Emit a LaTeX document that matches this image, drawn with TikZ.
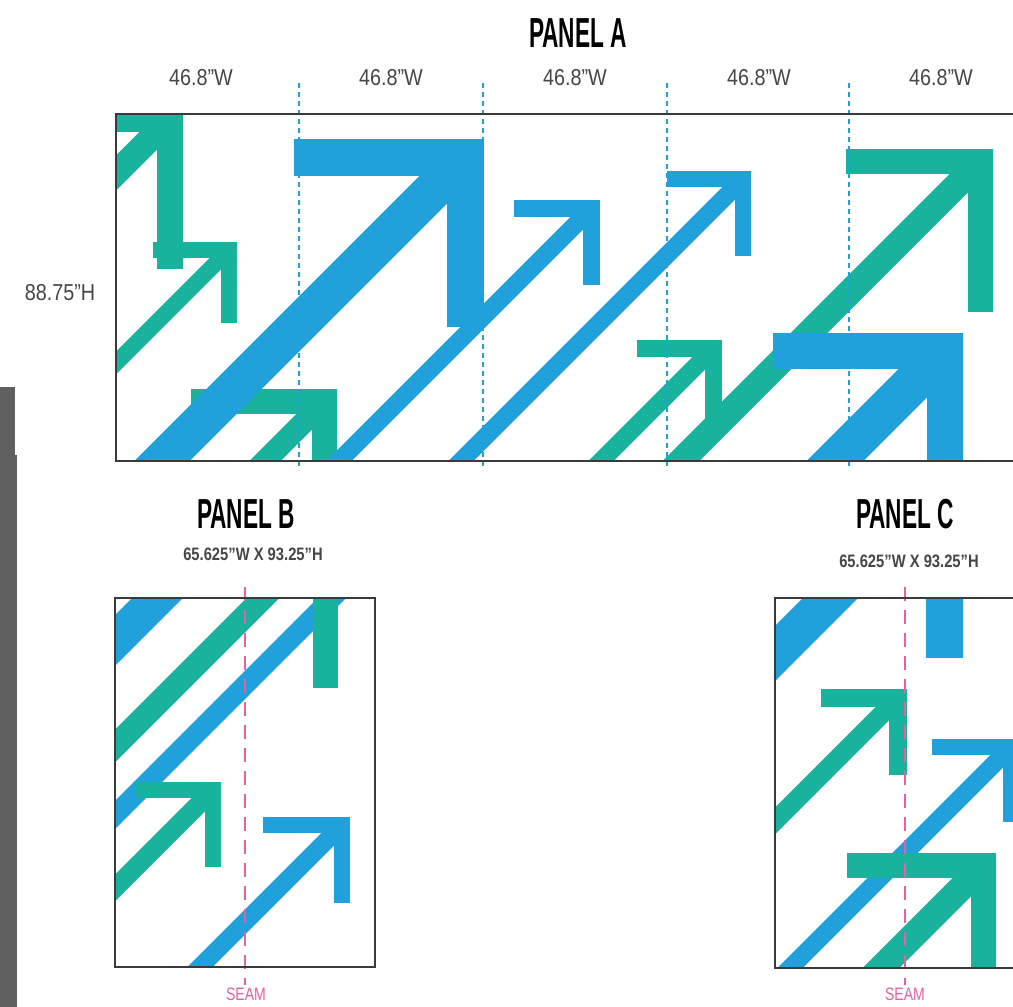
\documentclass[tikz,border=0pt]{standalone}
\usepackage{fontspec}
\usepackage{graphicx}
\setmainfont{Liberation Sans}
\definecolor{ablue}{RGB}{33,161,220}
\definecolor{ateal}{RGB}{25,178,157}
\definecolor{framec}{RGB}{58,58,58}
\definecolor{lblc}{RGB}{70,70,70}
\definecolor{seamc}{RGB}{228,98,160}
\definecolor{barc}{RGB}{96,96,96}
% arrow: colour, tip x, tip y, arm thickness, horizontal arm length, vertical arm length, shaft width
\newcommand{\arw}[7]{%
  \fill[#1] ({#2-#5},{#3}) rectangle ({#2},{#3+#4});
  \fill[#1] ({#2-#4},{#3}) rectangle ({#2},{#3+#6});
  \draw[#1,line width=#7pt,line cap=butt] ({#2-0.36*#7},{#3+0.36*#7}) -- ({#2-700},{#3+700});
}
% stripe: colour, x+y of centre line, perpendicular width
\newcommand{\strp}[3]{%
  \draw[#1,line width=#3pt,line cap=butt] ({#2+1000},{-1000}) -- ({#2-2000},{2000});
}
\tikzset{
  frameline/.style={framec,line width=2pt},
  adash/.style={ablue,line width=1.4pt,dash pattern=on 5pt off 4pt},
  seamline/.style={seamc,line width=1.5pt,dash pattern=on 14pt off 9pt},
  ptitle/.style={anchor=base,inner sep=0pt,text=black},
  dimlbl/.style={anchor=base,inner sep=0pt,text=lblc},
  seamlbl/.style={anchor=base,inner sep=0pt,text=seamc}
}
\begin{document}
\begin{tikzpicture}[x=1pt,y=-1pt]
\fill[white] (0,0) rectangle (1013,1007);
\useasboundingbox (0,0) rectangle (1013,1007);

% left grey bar
\fill[barc] (0,387) rectangle (15,455);
\fill[barc] (0,455) rectangle (17,1007);

% ---------------- PANEL A ----------------
\begin{scope}
\clip (116,114) rectangle (1013,461);
\arw{ateal}{183}{106}{26}{170}{163}{25}
\arw{ateal}{237}{242}{16}{84}{81}{16}
\arw{ateal}{993}{149}{25}{147}{163}{26}
\arw{ateal}{722}{340}{17}{85}{85}{18}
\arw{ateal}{337}{389}{25}{146}{100}{22}
\arw{ablue}{484}{139}{37}{190}{188}{39}
\arw{ablue}{600}{200}{17}{86}{85}{18}
\arw{ablue}{751}{171}{16}{84}{85}{18}
\arw{ablue}{963}{333}{36}{190}{200}{40}
\end{scope}
\foreach \xx in {299,483,667,849} {\draw[adash] (\xx,83) -- (\xx,470);}
\draw[frameline] (1013,114) -- (116,114) -- (116,461) -- (1013,461);

\node[ptitle] (pa) at (578,47) {\fontsize{42}{42}\selectfont\bfseries\scalebox{0.54}[1]{PANEL A}};
\node[dimlbl] (w1) at (201,85) {\fontsize{23}{23}\selectfont\scalebox{0.86}[1]{46.8"W}};
\node[dimlbl] (w2) at (391,85) {\fontsize{23}{23}\selectfont\scalebox{0.86}[1]{46.8"W}};
\node[dimlbl] (w3) at (575,85) {\fontsize{23}{23}\selectfont\scalebox{0.86}[1]{46.8"W}};
\node[dimlbl] (w4) at (759,85) {\fontsize{23}{23}\selectfont\scalebox{0.86}[1]{46.8"W}};
\node[dimlbl] (w5) at (941,85) {\fontsize{23}{23}\selectfont\scalebox{0.86}[1]{46.8"W}};
\node[dimlbl] (h1) at (60,300) {\fontsize{23}{23}\selectfont\scalebox{0.86}[1]{88.75"H}};

% ---------------- PANEL B ----------------
\begin{scope}
\clip (115,598) rectangle (375,967);
\strp{ablue}{755.5}{36}
\strp{ateal}{861}{23}
\strp{ablue}{930}{20}
\fill[ateal] (313,590) rectangle (338,688);
\arw{ateal}{221}{782}{16}{86}{85}{19}
\arw{ablue}{350}{817}{16}{87}{86}{18}
\end{scope}
\draw[seamline] (245,587) -- (245,985);
\draw[frameline] (115,598) rectangle (375,967);
\node[ptitle] (pb) at (246,528) {\fontsize{42}{42}\selectfont\bfseries\scalebox{0.54}[1]{PANEL B}};
\node[dimlbl] (db) at (253,560) {\fontsize{18}{18}\selectfont\bfseries\scalebox{0.82}[1]{65.625"W X 93.25"H}};
\node[seamlbl] (sb) at (246,1000) {\fontsize{18}{18}\selectfont\scalebox{0.78}[1]{SEAM}};

% ---------------- PANEL C ----------------
\begin{scope}
\clip (775,598) rectangle (1013,968);
\strp{ablue}{1428.5}{39}
\fill[ablue] (926,590) rectangle (963,658);
\arw{ateal}{907}{689}{18}{86}{86}{19}
\arw{ablue}{1019}{739}{16}{87}{83}{18}
\arw{ateal}{996}{853}{25}{149}{149}{26}
\end{scope}
\draw[seamline] (905,587) -- (905,985);
\draw[frameline] (1013,598) -- (775,598) -- (775,968) -- (1013,968);
\node[ptitle] (pc) at (905,528) {\fontsize{42}{42}\selectfont\bfseries\scalebox{0.54}[1]{PANEL C}};
\node[dimlbl] (dc) at (909,567) {\fontsize{18}{18}\selectfont\bfseries\scalebox{0.82}[1]{65.625"W X 93.25"H}};
\node[seamlbl] (sc) at (905,1000) {\fontsize{18}{18}\selectfont\scalebox{0.78}[1]{SEAM}};
\end{tikzpicture}
\end{document}
